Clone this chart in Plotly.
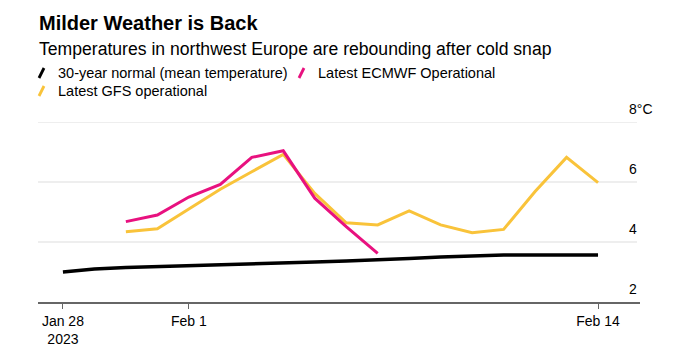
import plotly.graph_objects as go
import pandas as pd

# ---- data ----
dates = pd.date_range("2023-01-28", "2023-02-14", freq="D")
normal = [3.0, 3.1, 3.15, 3.18, 3.2, 3.22, 3.25, 3.3, 3.33, 3.37, 3.4, 3.45, 3.5, 3.53, 3.57, 3.57, 3.57, 3.57]
ecmwf_dates = pd.date_range("2023-01-30", "2023-02-07", freq="D")
ecmwf = [4.68, 4.9, 5.5, 5.92, 6.82, 7.04, 5.46, 4.51, 3.62]
gfs_dates = pd.date_range("2023-01-30", "2023-02-14", freq="D")
gfs = [4.34, 4.44, 5.1, 5.76, 6.34, 6.92, 5.62, 4.64, 4.57, 5.04, 4.57, 4.31, 4.42, 5.68, 6.82, 5.98]
x_tickvals = ["2023-01-28", "2023-02-01", "2023-02-14"]
x_ticktext = ["Jan 28<br>2023", "Feb 1", "Feb 14"]
y_tickvals = [2, 4, 6, 8]
y_ticktext = ["2", "4", "6", "8°C"]
series_names = ["30-year normal (mean temperature)", "Latest ECMWF Operational", "Latest GFS operational"]
colors = ["#000000", "#e8117f", "#f9c33a"]

FONT = "Liberation Sans, Arial, sans-serif"
OFF = 8  # page body margin
W, H = 680 - 2 * OFF, 357 - 2 * OFF
# target page pixel positions of plot area
PL, PR, PT, PB = 38, 640, 122, 302
L, T = PL - OFF, PT - OFF
R = W - (PR - OFF)
B = H - (PB - OFF)
pw, ph = W - L - R, H - T - B

def px(x):
    return (x - OFF - L) / pw

def py(y):
    return (PB - y) / ph

fig = go.Figure()
fig.add_trace(go.Scatter(x=dates, y=normal, mode="lines", line=dict(color=colors[0], width=3.5), name=series_names[0]))
fig.add_trace(go.Scatter(x=gfs_dates, y=gfs, mode="lines", line=dict(color=colors[2], width=3), name=series_names[2]))
fig.add_trace(go.Scatter(x=ecmwf_dates, y=ecmwf, mode="lines", line=dict(color=colors[1], width=3), name=series_names[1]))

shapes = []
for v in y_tickvals[1:]:
    shapes.append(dict(type="line", xref="paper", yref="y", x0=0, x1=px(637), y0=v, y1=v,
                       line=dict(color="#dddddd", width=1.2), layer="below"))
leg = [(38, 73, colors[0]), (298, 73, colors[1]), (38, 91, colors[2])]
for (lx, ly, c) in leg:
    shapes.append(dict(type="line", xref="paper", yref="paper", x0=px(lx + 1), x1=px(lx + 6),
                       y0=py(ly + 5), y1=py(ly - 5), line=dict(color=c, width=2.8)))

annotations = []
annotations.append(dict(text="<b>Milder Weather is Back</b>", xref="paper", yref="paper", x=px(37), y=py(23),
                        xanchor="left", yanchor="middle", showarrow=False, font=dict(family=FONT, size=20, color="#000")))
annotations.append(dict(text="Temperatures in northwest Europe are rebounding after cold snap", xref="paper", yref="paper",
                        x=px(37), y=py(49), xanchor="left", yanchor="middle", showarrow=False,
                        font=dict(family=FONT, size=17.6, color="#000")))
leg_text = [(56, 73, series_names[0]), (316, 73, series_names[1]), (56, 91, series_names[2])]
for (lx, ly, t) in leg_text:
    annotations.append(dict(text=t, xref="paper", yref="paper", x=px(lx), y=py(ly), xanchor="left", yanchor="middle",
                            showarrow=False, font=dict(family=FONT, size=14.5, color="#000")))
for v, t in zip(y_tickvals, y_ticktext):
    annotations.append(dict(text=t, xref="paper", yref="y", x=px(627), y=v, xanchor="left", yanchor="bottom",
                            yshift=3, showarrow=False, font=dict(family=FONT, size=14, color="#000")))

fig.update_layout(
    width=W, height=H, margin=dict(l=L, r=R, t=T, b=B, autoexpand=False),
    paper_bgcolor="white", plot_bgcolor="white",
    showlegend=False, shapes=shapes, annotations=annotations,
    font=dict(family=FONT, size=14, color="#000"),
    xaxis=dict(range=["2023-01-27 05:00", "2023-02-15 08:00"], tickvals=x_tickvals, ticktext=x_ticktext,
               showgrid=False, zeroline=False, showline=True, linecolor="#666666", linewidth=1.5,
               ticks="outside", ticklen=5, tickcolor="#666666", tickwidth=1.2, automargin=False,
               tickfont=dict(family=FONT, size=14, color="#000")),
    yaxis=dict(range=[2, 8], showgrid=False, zeroline=False, showticklabels=False, showline=False,
               automargin=False),
)

fig.write_html("out.html")
